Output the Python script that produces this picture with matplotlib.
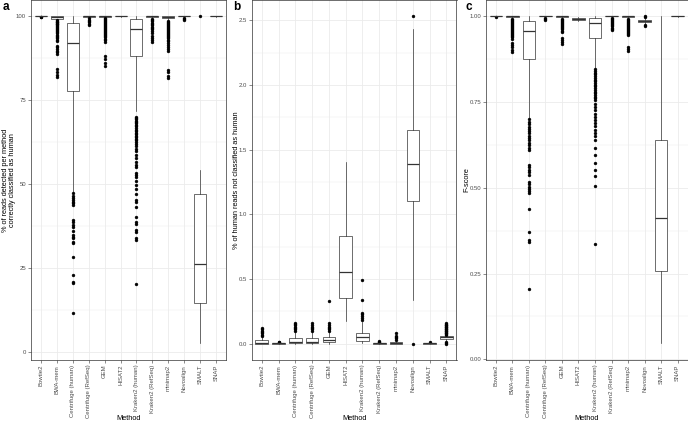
import numpy as np
import matplotlib.pyplot as plt

plt.rcParams['font.family'] = ['Liberation Sans', 'DejaVu Sans']

methods = ['Bowtie2', 'BWA-mem', 'Centrifuge (human)', 'Centrifuge (RefSeq)', 'GEM', 'HISAT2',
           'Kraken2 (human)', 'Kraken2 (RefSeq)', 'minimap2', 'Novoalign', 'SMALT', 'SNAP']

# panel a : % of reads detected per method correctly classified as human
a_q1 = [99.95, 99.2, 77.8, 99.9, 99.9, 99.95, 88.2, 99.9, 99.4, 99.95, 14.8, 99.95]
a_med = [100, 99.75, 92.0, 100, 100, 100, 96.3, 100, 99.8, 100, 26.2, 100]
a_q3 = [100, 99.95, 97.9, 100, 100, 100, 99.2, 100, 100, 100, 47.0, 100]
a_lo = [99.8, 98.9, 47.8, 99.6, 99.7, 99.9, 71.8, 99.6, 98.9, 99.8, 2.7, 99.9]
a_hi = [100, 100, 100, 100, 100, 100, 100, 100, 100, 100, 54.3, 100]
a_out = [
    [99.9, 99.85],
    [98.8, 98.6, 98.4, 98.2, 98.0, 97.8, 97.6, 97.4, 97.1, 96.8, 96.5, 96.2, 95.9, 95.6, 95.2, 94.9,
     94.5, 94.1, 93.8, 93.5, 93.0, 92.6, 91.2, 90.8, 90.4, 89.8, 89.4, 88.8, 84.2, 83.5, 82.6, 82.0],
    [47.3, 46.6, 45.8, 45.2, 44.8, 44.3, 43.8, 39.4, 38.8, 37.9, 37.4, 36.0, 34.9, 34.3, 33.9, 32.9,
     32.4, 28.3, 22.9, 21.0, 20.5, 11.6],
    [99.4, 99.0, 98.6, 98.2, 97.8, 97.4],
    [99.5, 99.2, 98.9, 98.6, 98.3, 98.0, 97.7, 97.4, 97.1, 96.8, 96.5, 96.2, 95.9, 95.6, 95.3, 95.0,
     94.7, 94.4, 94.1, 93.7, 93.3, 92.8, 92.3, 88.1, 87.4, 86.0, 85.2],
    [],
    [70.1, 69.7, 69.3, 68.9, 68.5, 68.1, 67.7, 67.2, 66.8, 66.3, 65.9, 65.4, 65.0, 64.5, 64.1, 63.6,
     63.1, 62.5, 61.9, 61.3, 60.4, 59.8, 58.7, 57.9, 56.6, 55.8, 55.2, 53.3, 52.7, 52.1, 50.9, 49.8,
     48.6, 47.2, 45.3, 44.7, 43.3, 40.4, 38.9, 38.3, 36.4, 35.9, 33.9, 33.4, 20.3],
    [99.3, 98.9, 98.5, 98.1, 97.7, 97.3, 96.9, 96.5, 96.1, 95.6, 95.0, 94.2, 93.5, 92.8, 92.3],
    [98.7, 98.4, 98.1, 97.8, 97.5, 97.2, 96.9, 96.6, 96.3, 96.0, 95.7, 95.4, 95.1, 94.8, 94.5, 94.2,
     93.8, 93.4, 93.0, 92.6, 92.1, 91.5, 90.8, 90.2, 89.6, 84.0, 83.3, 82.3, 81.7],
    [99.5, 99.2, 98.9],
    [100],
    [],
]

# panel b : % of human reads not classified as human
b_q1 = [0.0, 0.0, 0.002, 0.002, 0.012, 0.35, 0.02, 0.0, 0.0, 1.10, 0.0, 0.039]
b_med = [0.005, 0.001, 0.015, 0.013, 0.03, 0.553, 0.054, 0.001, 0.004, 1.389, 0.001, 0.05]
b_q3 = [0.025, 0.003, 0.04, 0.04, 0.054, 0.83, 0.08, 0.003, 0.01, 1.651, 0.003, 0.062]
b_lo = [0.0, 0.0, 0.0, 0.0, 0.0, 0.175, 0.005, 0.0, 0.0, 0.334, 0.0, 0.015]
b_hi = [0.055, 0.007, 0.09, 0.09, 0.09, 1.404, 0.165, 0.007, 0.022, 2.43, 0.006, 0.068]
b_out = [
    [0.06, 0.07, 0.08, 0.09, 0.1, 0.11, 0.12],
    [0.012, 0.015],
    [0.1, 0.11, 0.12, 0.13, 0.14, 0.15, 0.16],
    [0.1, 0.11, 0.12, 0.13, 0.14, 0.16],
    [0.1, 0.11, 0.12, 0.13, 0.14, 0.16, 0.33],
    [],
    [0.18, 0.2, 0.21, 0.23, 0.24, 0.334, 0.49],
    [0.01, 0.015, 0.02],
    [0.03, 0.04, 0.05, 0.06, 0.08],
    [0.0, 2.533],
    [0.01],
    [0.0, 0.005, 0.01, 0.07, 0.075, 0.08, 0.085, 0.09, 0.095, 0.1, 0.105, 0.11, 0.115, 0.12, 0.125,
     0.13, 0.135, 0.14, 0.145, 0.15, 0.157],
]

# panel c : F-score
c_q1 = [0.999, 0.997, 0.874, 0.999, 0.998, 0.99, 0.935, 0.999, 0.998, 0.983, 0.257, 0.999]
c_med = [1.0, 0.999, 0.956, 1.0, 1.0, 0.992, 0.981, 1.0, 0.999, 0.986, 0.412, 1.0]
c_q3 = [1.0, 1.0, 0.986, 1.0, 1.0, 0.995, 0.996, 1.0, 1.0, 0.988, 0.640, 1.0]
c_lo = [0.998, 0.994, 0.703, 0.997, 0.995, 0.987, 0.848, 0.996, 0.995, 0.977, 0.047, 0.998]
c_hi = [1.0, 1.0, 1.0, 1.0, 1.0, 0.997, 1.0, 1.0, 1.0, 0.995, 1.0, 1.0]
c_out = [
    [0.997],
    [0.993, 0.99, 0.987, 0.984, 0.981, 0.978, 0.975, 0.972, 0.969, 0.966, 0.963, 0.96, 0.957, 0.954,
     0.951, 0.948, 0.945, 0.942, 0.938, 0.934, 0.921, 0.915, 0.909, 0.902, 0.896],
    [0.70, 0.692, 0.685, 0.678, 0.672, 0.665, 0.658, 0.651, 0.645, 0.638, 0.631, 0.624, 0.617, 0.61,
     0.567, 0.56, 0.552, 0.545, 0.538, 0.518, 0.51, 0.503, 0.497, 0.49, 0.485, 0.438, 0.371, 0.347,
     0.342, 0.206],
    [0.995, 0.992, 0.988],
    [0.992, 0.989, 0.986, 0.983, 0.98, 0.977, 0.974, 0.971, 0.968, 0.965, 0.962, 0.958, 0.954, 0.936,
     0.93, 0.925, 0.92],
    [],
    [0.845, 0.84, 0.835, 0.83, 0.825, 0.82, 0.815, 0.81, 0.805, 0.8, 0.795, 0.79, 0.785, 0.78, 0.775,
     0.77, 0.765, 0.76, 0.756, 0.745, 0.735, 0.726, 0.716, 0.707, 0.698, 0.688, 0.679, 0.669, 0.66,
     0.65, 0.64, 0.615, 0.596, 0.572, 0.552, 0.533, 0.506, 0.337],
    [0.994, 0.991, 0.988, 0.985, 0.982, 0.979, 0.976, 0.973, 0.97, 0.966, 0.962, 0.959],
    [0.993, 0.99, 0.987, 0.984, 0.981, 0.978, 0.975, 0.972, 0.969, 0.966, 0.963, 0.96, 0.957, 0.954,
     0.951, 0.947, 0.944, 0.911, 0.905, 0.898],
    [1.0, 0.998, 0.974, 0.97],
    [],
    [],
]

W, H = 688, 424
fig = plt.figure(figsize=(W / 100, H / 100), dpi=100)


def panel(left, right, q1, med, q3, lo, hi, out, ylim, yticks, ylabels, minor, ylabel, ylab_x, letter, letter_x):
    ax = fig.add_axes([left / W, 1 - 360 / H, (right - left) / W, 360 / H])
    stats = []
    for i in range(len(methods)):
        stats.append(dict(med=med[i], q1=q1[i], q3=q3[i], whislo=lo[i], whishi=hi[i], fliers=out[i]))
    ax.bxp(stats, positions=range(1, 13), widths=0.75, showcaps=False, patch_artist=True,
           boxprops=dict(facecolor='white', edgecolor='#333333', linewidth=0.5),
           medianprops=dict(color='#333333', linewidth=0.9),
           whiskerprops=dict(color='#333333', linewidth=0.5),
           flierprops=dict(marker='o', markersize=2.1, markerfacecolor='black',
                           markeredgecolor='black', markeredgewidth=0.3))
    ax.set_xlim(0.4, 12.6)
    ax.set_ylim(*ylim)
    ax.set_xticks(range(1, 13))
    ax.set_xticklabels(methods, rotation=90, fontsize=4.3, color='#4D4D4D')
    ax.set_yticks(yticks)
    ax.set_yticklabels(ylabels, fontsize=4.3, color='#4D4D4D')
    ax.set_yticks(minor, minor=True)
    ax.tick_params(axis='both', which='major', length=2, width=0.4, color='#333333', pad=1.5)
    ax.tick_params(axis='y', which='minor', length=0)
    ax.grid(True, which='major', color='#EBEBEB', linewidth=0.6)
    ax.grid(True, which='minor', axis='y', color='#EBEBEB', linewidth=0.35)
    ax.set_axisbelow(True)
    for s in ax.spines.values():
        s.set_color('#333333')
        s.set_linewidth(0.5)
    ax.set_xlabel('Method', fontsize=5.3)
    ax.xaxis.set_label_coords(0.5, -0.152)
    ax.set_ylabel(ylabel, fontsize=5.3, linespacing=1.0, va='center')
    ax.yaxis.set_label_coords((ylab_x - left) / (right - left), 0.5)
    fig.text(letter_x / W, 1 - 7.5 / H, letter, fontsize=8.5, fontweight='bold', va='center')
    return ax


panel(31, 226, a_q1, a_med, a_q3, a_lo, a_hi, a_out, (-2.3, 104.85),
      [0, 25, 50, 75, 100], ['0', '25', '50', '75', '100'], [12.5, 37.5, 62.5, 87.5],
      '% of reads detected per method\ncorrectly classified as human', 9.5, 'a', 3)
panel(251.7, 456.5, b_q1, b_med, b_q3, b_lo, b_hi, b_out, (-0.127, 2.657),
      [0, 0.5, 1.0, 1.5, 2.0, 2.5], ['0.0', '0.5', '1.0', '1.5', '2.0', '2.5'],
      [0.25, 0.75, 1.25, 1.75, 2.25],
      '% of human reads not classified as human', 236.5, 'b', 233)
panel(486, 687.5, c_q1, c_med, c_q3, c_lo, c_hi, c_out, (-0.002, 1.047),
      [0, 0.25, 0.5, 0.75, 1.0], ['0.00', '0.25', '0.50', '0.75', '1.00'], [0.125, 0.375, 0.625, 0.875],
      'F-score', 466.5, 'c', 465)

fig.savefig('out.png', dpi=100)
